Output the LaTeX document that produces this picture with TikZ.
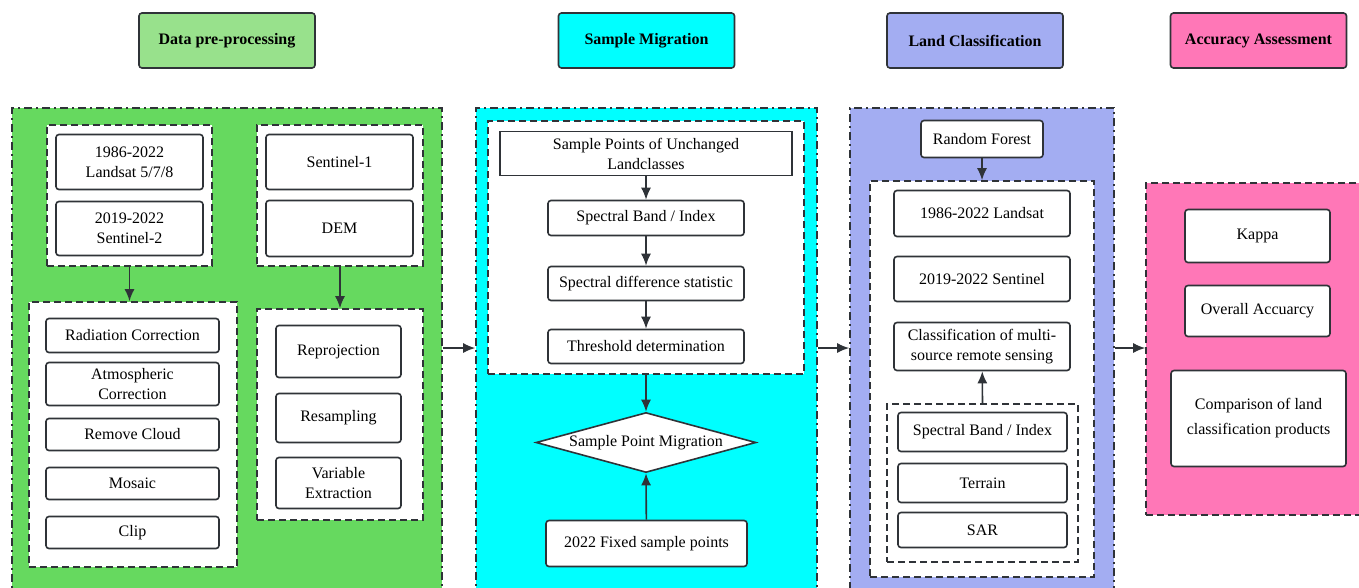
\documentclass[tikz,border=0pt]{standalone}
\usepackage{fontspec}
\setmainfont{Liberation Serif}
\usetikzlibrary{shapes.geometric, arrows.meta, positioning}

\definecolor{linec}{HTML}{2F3338}
\definecolor{greenhead}{HTML}{98E18C}
\definecolor{greenbg}{HTML}{66D95F}
\definecolor{cyanbg}{HTML}{00FFFF}
\definecolor{bluebg}{HTML}{A3ADF2}
\definecolor{pinkbg}{HTML}{FF77B7}

\begin{document}
\begin{tikzpicture}[x=1pt, y=-1pt, >={Latex[length=12pt,width=10pt]}]

\tikzset{
  head/.style = {draw=linec, rounded corners=3pt, line width=1.6pt, minimum width=176pt, minimum height=55pt, inner sep=0pt, font=\fontsize{16}{19}\selectfont\bfseries},
  box/.style = {draw=linec, fill=white, rounded corners=3pt, line width=1.6pt, inner sep=0pt, align=center, font=\fontsize{16}{20}\selectfont},
  grp/.style = {draw=linec, fill=white, line width=1.6pt, dash pattern=on 7pt off 4pt, inner sep=0pt},
  panel/.style = {draw=linec, line width=1.6pt, dash pattern=on 8pt off 4pt on 2pt off 4pt, inner sep=0pt},
  arr/.style = {->, draw=linec, line width=1.6pt}
}

\useasboundingbox (0,0) rectangle (1359,587);
\clip (0,0) rectangle (1359,587);
\fill[white] (0,0) rectangle (1359,587);

%Headers
\node[head, fill=greenhead] (hdp) at (227,40.5) {Data pre-processing};
\node[head, fill=cyanbg] (hsm) at (646.5,40.5) {Sample Migration};
\node[head, fill=bluebg] (hlc) at (975,40.5) {Land Classification};
\node[head, fill=pinkbg] (haa) at (1258.5,40.5) {Accuracy Assessment};

%Panels
\node[panel, fill=greenbg, minimum width=430pt, minimum height=492pt] (prep) at (227,354) {};
\node[panel, fill=cyanbg, minimum width=341pt, minimum height=492pt] (smig) at (646.5,354) {};
\node[panel, fill=bluebg, minimum width=264pt, minimum height=492pt] (lcls) at (982,354) {};
\node[grp, fill=pinkbg, minimum width=225pt, minimum height=332pt] (accu) at (1258.5,349) {};
\coordinate (mid) at (0,348);

%Data pre-processing
\node[grp, minimum width=165pt, minimum height=141pt] (srcA) at (129.5,195.5) {};
\node[box, minimum width=147pt, minimum height=55pt] (landsat) at (129.5,162) {1986-2022\\Landsat 5/7/8};
\node[box, minimum width=147pt, minimum height=54pt] (senttwo) at (129.5,228.5) {2019-2022\\Sentinel-2};
\node[grp, minimum width=166pt, minimum height=141pt] (srcB) at (340,195.5) {};
\node[box, minimum width=147pt, minimum height=55pt] (sentone) at (339.5,162) {Sentinel-1};
\node[box, minimum width=147pt, minimum height=56pt] (dem) at (339.5,228.5) {DEM};

\node[grp, minimum width=208pt, minimum height=265pt] (procA) at (133,434.5) {};
\node[box, minimum width=173pt, minimum height=34pt] (radc) at (132.5,335.5) {Radiation Correction};
\node[box, minimum width=173pt, minimum height=43pt] (atmc) at (132.5,384) {Atmospheric\\Correction};
\node[box, minimum width=173pt, minimum height=32pt] (cloud) at (132.5,434.5) {Remove Cloud};
\node[box, minimum width=173pt, minimum height=32pt] (mosaic) at (132.5,483.5) {Mosaic};
\node[box, minimum width=173pt, minimum height=32pt] (clip) at (132.5,532.5) {Clip};

\node[grp, minimum width=166pt, minimum height=211pt] (procB) at (340,414.5) {};
\node[box, minimum width=125pt, minimum height=52pt] (reproj) at (338.5,351.5) {Reprojection};
\node[box, minimum width=125pt, minimum height=49pt] (resamp) at (338.5,418) {Resampling};
\node[box, minimum width=125pt, minimum height=51pt] (varex) at (338.5,483) {Variable\\Extraction};

%Sample migration
\node[grp, minimum width=316pt, minimum height=253pt] (stat) at (646,247.5) {};
\node[box, rounded corners=0pt, minimum width=292pt, minimum height=44pt] (unch) at (646,153.5) {Sample Points of Unchanged\\Landclasses};
\node[box, minimum width=196pt, minimum height=35pt] (band) at (646,218) {Spectral Band / Index};
\node[box, minimum width=196pt, minimum height=34pt] (diff) at (646,283.5) {Spectral difference statistic};
\node[box, minimum width=196pt, minimum height=34pt] (thres) at (646,346.5) {Threshold determination};
\node[box, shape=diamond, rounded corners=0pt, aspect=3.6, minimum width=220pt, minimum height=60pt] (migr) at (646,442.5) {Sample Point Migration};
\node[box, minimum width=201pt, minimum height=46pt] (fixed) at (646.5,543.5) {2022 Fixed sample points};

%Land classification
\node[box, minimum width=122pt, minimum height=37pt] (rf) at (982,139) {Random Forest};
\node[grp, minimum width=224pt, minimum height=396pt] (clsgrp) at (982,379) {};
\node[box, minimum width=176pt, minimum height=46pt] (lsat) at (982,213.5) {1986-2022 Landsat};
\node[box, minimum width=176pt, minimum height=45pt] (sent) at (982,279) {2019-2022 Sentinel};
\node[box, minimum width=176pt, minimum height=48pt] (multi) at (982,346.5) {Classification of multi-\\source remote sensing};
\node[grp, minimum width=191pt, minimum height=158pt] (feat) at (982.5,483) {};
\node[box, minimum width=169pt, minimum height=39pt] (bandtwo) at (982.5,432) {Spectral Band / Index};
\node[box, minimum width=169pt, minimum height=39pt] (terrain) at (982.5,483) {Terrain};
\node[box, minimum width=169pt, minimum height=35pt] (sar) at (982.5,530) {SAR};

%Accuracy assessment
\node[box, minimum width=145pt, minimum height=53pt] (kappa) at (1257.5,236) {Kappa};
\node[box, minimum width=145pt, minimum height=51pt] (oacc) at (1257.5,311) {Overall Accuarcy};
\node[box, minimum width=175pt, minimum height=96pt, font=\fontsize{16}{25}\selectfont] (comp) at (1258.5,418.5) {Comparison of land\\classification products};

%Connections
\draw[arr] (srcA.south) -- (srcA.south |- procA.north);
\draw[arr] (srcB.south) -- (srcB.south |- procB.north);
\draw[arr] (unch) -- (band);
\draw[arr] (band) -- (diff);
\draw[arr] (diff) -- (thres);
\draw[arr] (stat.south) -- (migr.north);
\draw[arr] (fixed) -- (migr.south);
\draw[arr] (rf) -- (clsgrp.north);
\draw[arr] (feat.north) -- (multi);
\draw[arr] (prep.east |- mid) -- (smig.west |- mid);
\draw[arr] (smig.east |- mid) -- (lcls.west |- mid);
\draw[arr] (lcls.east |- mid) -- (accu.west |- mid);
\end{tikzpicture}
\end{document}
